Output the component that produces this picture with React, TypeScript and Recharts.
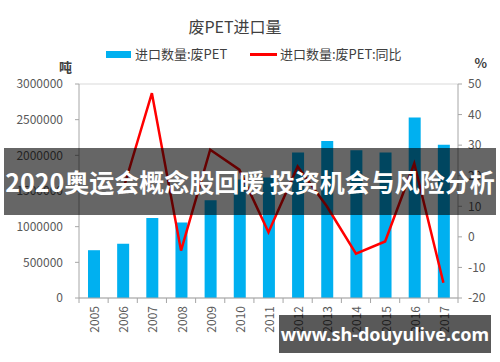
import React from 'react';
import {
  ComposedChart,
  Bar,
  Line,
  XAxis,
  YAxis,
  CartesianGrid
} from 'recharts';

// Years, import volume (tonnes) and year-on-year change (%)
const years = ['2005', '2006', '2007', '2008', '2009', '2010', '2011', '2012', '2013', '2014', '2015', '2016', '2017'];
const volume = [670000, 760000, 1120000, 1060000, 1370000, 1660000, 1690000, 2040000, 2200000, 2070000, 2040000, 2530000, 2150000];
const yoy: (number | null)[] = [null, 15, 47, -4.5, 28.5, 22, 1.5, 23, 10, -5.5, -1.5, 24, -15];

const leftTicks = [0, 500000, 1000000, 1500000, 2000000, 2500000, 3000000];
const rightTicks = [-20, -10, 0, 10, 20, 30, 40, 50];

const data = years.map((year, i) => ({ year, volume: volume[i], yoy: yoy[i] }));

const FONT = '"Noto Sans CJK SC", "Noto Sans", sans-serif';
const PLOT_LEFT = 79;
const PLOT_RIGHT = 458;
const BAND = (PLOT_RIGHT - PLOT_LEFT) / years.length;

const YearTick = (props: any) => {
  const { x, y, payload, index } = props;
  return (
    <g>
      <line x1={x - BAND / 2} x2={x - BAND / 2} y1={y - 8} y2={y - 3} stroke="#a6a6a6" />
      {index === years.length - 1 && (
        <line x1={x + BAND / 2} x2={x + BAND / 2} y1={y - 8} y2={y - 3} stroke="#a6a6a6" />
      )}
      <text
        x={x}
        y={y}
        transform={`rotate(-90, ${x}, ${y})`}
        textAnchor="end"
        dominantBaseline="central"
        fontSize={12}
        fill="#595959"
        fontFamily={FONT}
      >
        {payload.value}
      </text>
    </g>
  );
};

export default function App() {
  return (
    <div style={{ position: 'absolute', left: 0, top: 0, width: 500, height: 362, background: '#fff', overflow: 'hidden' }}>
      <div
        style={{
          position: 'absolute',
          left: 0,
          width: 470,
          top: 14,
          textAlign: 'center',
          fontFamily: FONT,
          fontSize: 16,
          color: '#404040'
        }}
      >
        废PET进口量
      </div>
      <div style={{ position: 'absolute', top: 45, left: 0, width: 500, height: 20, fontFamily: FONT, fontSize: 13, color: '#404040' }}>
        <span style={{ position: 'absolute', left: 106, top: 6, width: 25, height: 7, background: '#00B0F0' }} />
        <span style={{ position: 'absolute', left: 135, top: 0, lineHeight: '18px' }}>进口数量:废PET</span>
        <span style={{ position: 'absolute', left: 250, top: 8, width: 27, height: 3, background: '#FF0000' }} />
        <span style={{ position: 'absolute', left: 280, top: 0, lineHeight: '18px' }}>进口数量:废PET:同比</span>
      </div>
      <div style={{ position: 'absolute', left: 0, top: 0 }}>
        <ComposedChart
          width={500}
          height={362}
          data={data}
          margin={{ top: 84, right: 0, bottom: 24, left: 9 }}
        >
          <CartesianGrid horizontal vertical={false} stroke="#d9d9d9" />
          <XAxis
            dataKey="year"
            height={40}
            tick={<YearTick />}
            tickLine={false}
            axisLine={{ stroke: '#a6a6a6' }}
            interval={0}
          />
          <YAxis
            yAxisId="left"
            width={70}
            domain={[0, 3000000]}
            ticks={leftTicks}
            tickSize={4}
            tickMargin={12}
            tick={{ fontSize: 12, fill: '#595959', fontFamily: FONT }}
            tickLine={{ stroke: '#a6a6a6' }}
            axisLine={{ stroke: '#a6a6a6' }}
            label={{ value: '吨', position: 'insideTopRight', dx: -2, dy: -26, fontSize: 13, fontWeight: 'bold', fill: '#404040', fontFamily: FONT }}
          />
          <YAxis
            yAxisId="right"
            orientation="right"
            width={42}
            domain={[-20, 50]}
            ticks={rightTicks}
            tickSize={4}
            tickMargin={6}
            tick={{ fontSize: 12, fill: '#595959', fontFamily: FONT, textAnchor: 'start' }}
            tickLine={{ stroke: '#a6a6a6' }}
            axisLine={{ stroke: '#a6a6a6' }}
            label={{ value: '%', position: 'insideTopRight', dx: -8, dy: -30, fontSize: 13, fontWeight: 'bold', fill: '#404040', fontFamily: FONT }}
          />
          <Bar yAxisId="left" dataKey="volume" name="进口数量:废PET" fill="#00B0F0" barSize={12} isAnimationActive={false} />
          <Line
            yAxisId="right"
            dataKey="yoy"
            name="进口数量:废PET:同比"
            stroke="#FF0000"
            strokeWidth={2.5}
            dot={false}
            type="linear"
            isAnimationActive={false}
          />
        </ComposedChart>
      </div>
      <div
        style={{
          position: 'absolute',
          left: 4,
          top: 148,
          width: 492,
          height: 67,
          background: 'rgba(0,0,0,0.6)',
          color: '#fff',
          fontFamily: FONT,
          fontWeight: 'bold',
          fontSize: 25,
          lineHeight: '67px',
          textAlign: 'center',
          whiteSpace: 'nowrap'
        }}
      >
        2020奥运会概念股回暖 投资机会与风险分析
      </div>
      <div
        style={{
          position: 'absolute',
          left: 279,
          top: 315,
          width: 212,
          height: 38,
          background: 'rgba(0,0,0,0.65)',
          color: '#fff',
          fontFamily: '"Noto Sans", sans-serif',
          fontWeight: 'bold',
          fontSize: 18,
          lineHeight: '38px',
          textAlign: 'center',
          whiteSpace: 'nowrap'
        }}
      >
        www.sh-douyulive.com
      </div>
    </div>
  );
}
